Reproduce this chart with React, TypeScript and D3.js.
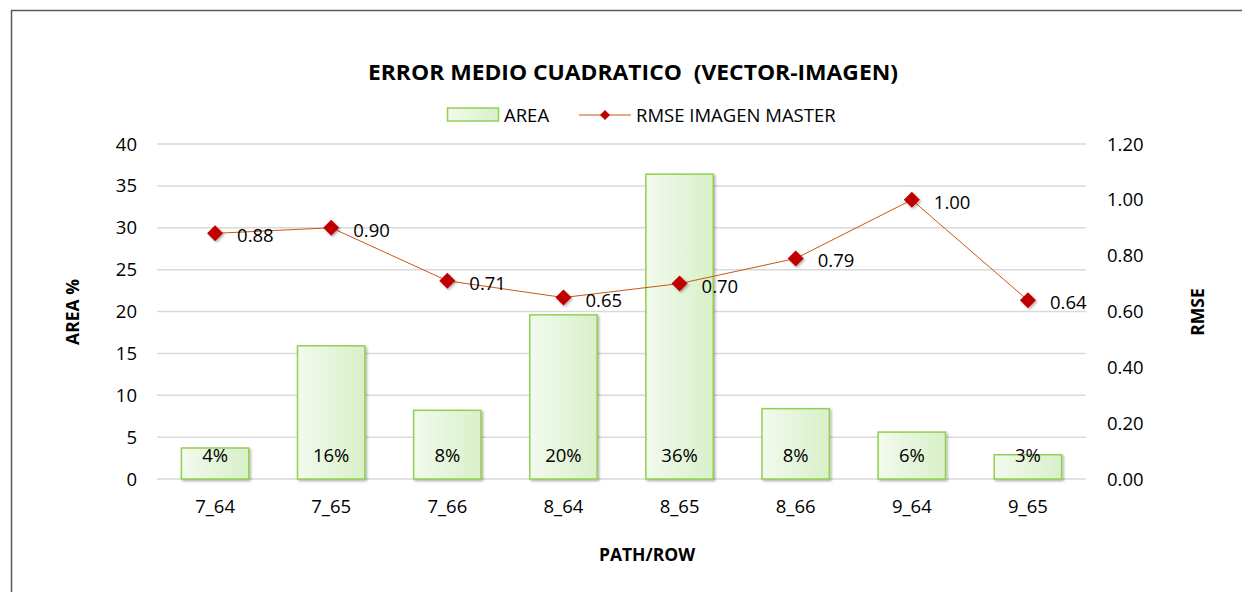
import React from "react";
import * as d3 from "d3";

const categories = ["7_64", "7_65", "7_66", "8_64", "8_65", "8_66", "9_64", "9_65"];
const areaValues = [3.7, 15.9, 8.2, 19.6, 36.4, 8.4, 5.6, 2.9];
const areaLabels = ["4%", "16%", "8%", "20%", "36%", "8%", "6%", "3%"];
const rmseValues = [0.88, 0.9, 0.71, 0.65, 0.7, 0.79, 1.0, 0.64];
const leftTicks = [0, 5, 10, 15, 20, 25, 30, 35, 40];
const rightTicks = [0, 0.2, 0.4, 0.6, 0.8, 1.0, 1.2];

const W = 1242;
const H = 592;
const plot = { left: 157, right: 1086, top: 144, bottom: 479 };
const FONT = "'Open Sans', 'DejaVu Sans', sans-serif";
const FS = 18.5;

export default function App() {
  const x = d3.scaleBand<string>().domain(categories).range([plot.left, plot.right]).paddingInner(0.42).paddingOuter(0.21);
  const xc = d3.scaleBand<string>().domain(categories).range([plot.left, plot.right]);
  const yL = d3.scaleLinear().domain([0, 40]).range([plot.bottom, plot.top]);
  const yR = d3.scaleLinear().domain([0, 1.2]).range([plot.bottom, plot.top]);
  const line = d3
    .line<number>()
    .x((_, i) => (xc(categories[i]) as number) + xc.bandwidth() / 2)
    .y((d) => yR(d));
  const diamond = (cx: number, cy: number, r: number) =>
    `M${cx},${cy - r}L${cx + r},${cy}L${cx},${cy + r}L${cx - r},${cy}Z`;

  return (
    <svg width={W} height={H} style={{ position: "absolute", left: 0, top: 0, fontFamily: FONT }}>
      <defs>
        <linearGradient id="barGrad" x1="0" x2="1" y1="0" y2="0">
          <stop offset="0%" stopColor="#f2faee" />
          <stop offset="100%" stopColor="#d8f0c8" />
        </linearGradient>
        <filter id="shadow" x="-20%" y="-20%" width="150%" height="150%">
          <feDropShadow dx="1.5" dy="1.5" stdDeviation="1.2" floodColor="#000" floodOpacity="0.3" />
        </filter>
      </defs>
      <rect x={0} y={0} width={W} height={H} fill="#fff" />
      {/* outer border */}
      <path d={`M11.5,${H + 5}V10.5H${W + 5}`} fill="none" stroke="#595959" strokeWidth={1.5} />

      {/* title */}
      <text
        x={368}
        y={80}
        fontSize={22}
        fontWeight="bold"
        fill="#000"
        textLength={530}
        lengthAdjust="spacingAndGlyphs"
        style={{ whiteSpace: "pre" }}
      >
        {"ERROR MEDIO CUADRATICO  (VECTOR-IMAGEN)"}
      </text>

      {/* legend */}
      <rect x={447.5} y={108} width={51} height={13} fill="url(#barGrad)" stroke="#92d050" strokeWidth={1.5} />
      <text x={504} y={121.5} fontSize={FS} fill="#000">AREA</text>
      <line x1={579} x2={631} y1={115} y2={115} stroke="#c65911" strokeWidth={1} />
      <path d={diamond(605, 115, 5)} fill="#c00000" />
      <text x={636} y={121.5} fontSize={FS} fill="#000">RMSE IMAGEN MASTER</text>

      {/* gridlines */}
      {leftTicks.map((t) => (
        <line key={t} x1={plot.left} x2={plot.right} y1={yL(t)} y2={yL(t)} stroke="#d9d9d9" strokeWidth={1.5} />
      ))}

      {/* left axis ticks */}
      {leftTicks.map((t) => (
        <text key={t} x={137} y={yL(t) + 6.5} textAnchor="end" fontSize={FS} fill="#000">
          {t}
        </text>
      ))}
      {/* right axis ticks */}
      {rightTicks.map((t) => (
        <text key={t} x={1107} y={yR(t) + 6.5} textAnchor="start" fontSize={FS} fill="#000">
          {t.toFixed(2)}
        </text>
      ))}

      {/* bars */}
      {categories.map((c, i) => (
        <rect
          key={c}
          x={x(c)}
          y={yL(areaValues[i])}
          width={x.bandwidth()}
          height={yL(0) - yL(areaValues[i])}
          fill="url(#barGrad)"
          stroke="#92d050"
          strokeWidth={1.5}
          filter="url(#shadow)"
        />
      ))}
      {categories.map((c, i) => (
        <text key={c} x={(x(c) as number) + x.bandwidth() / 2} y={461.5} textAnchor="middle" fontSize={FS} fill="#000">
          {areaLabels[i]}
        </text>
      ))}

      {/* line */}
      <path d={line(rmseValues) || ""} fill="none" stroke="#c65911" strokeWidth={1} />
      {rmseValues.map((v, i) => {
        const cx = (xc(categories[i]) as number) + xc.bandwidth() / 2;
        return <path key={i} d={diamond(cx, yR(v), 8)} fill="#c00000" filter="url(#shadow)" />;
      })}
      {rmseValues.map((v, i) => {
        const cx = (xc(categories[i]) as number) + xc.bandwidth() / 2;
        return (
          <text key={i} x={cx + 22} y={yR(v) + 9} fontSize={FS} fill="#000">
            {v.toFixed(2)}
          </text>
        );
      })}

      {/* x tick labels */}
      {categories.map((c) => (
        <text key={c} x={(xc(c) as number) + xc.bandwidth() / 2} y={512.5} textAnchor="middle" fontSize={FS} fill="#000">
          {c}
        </text>
      ))}

      {/* axis titles */}
      <text x={647} y={561} textAnchor="middle" fontSize={17.5} fontWeight="bold" fill="#000">PATH/ROW</text>
      <text transform={`translate(79,312) rotate(-90)`} textAnchor="middle" fontSize={17.5} fontWeight="bold" fill="#000">AREA %</text>
      <text transform={`translate(1204,312) rotate(-90)`} textAnchor="middle" fontSize={17.5} fontWeight="bold" fill="#000">RMSE</text>
    </svg>
  );
}
